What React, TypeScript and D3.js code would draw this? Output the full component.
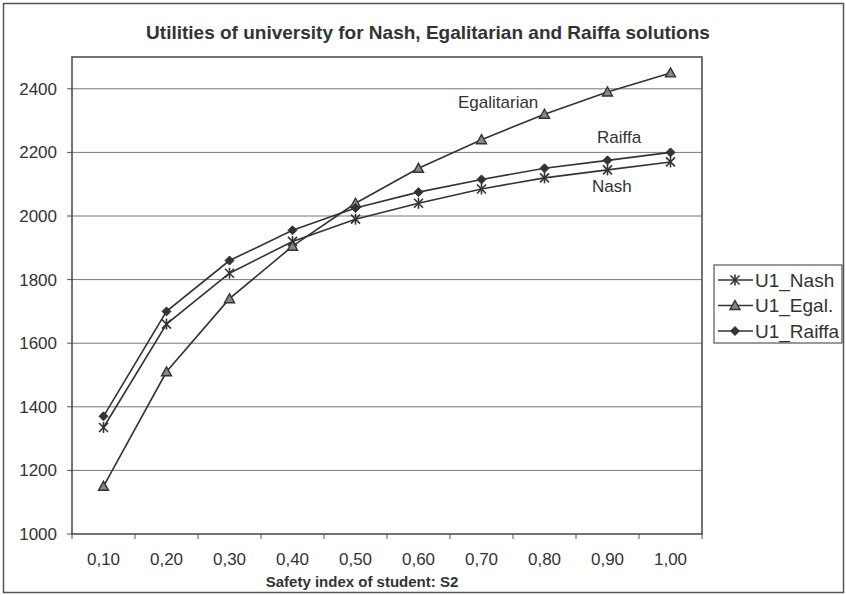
import React from "react";
import * as d3 from "d3";

const categories = ["0,10", "0,20", "0,30", "0,40", "0,50", "0,60", "0,70", "0,80", "0,90", "1,00"];
const nash = [1335, 1660, 1820, 1920, 1990, 2040, 2085, 2120, 2145, 2170];
const egal = [1150, 1510, 1740, 1905, 2040, 2150, 2240, 2320, 2390, 2450];
const raiffa = [1370, 1700, 1860, 1955, 2025, 2075, 2115, 2150, 2175, 2200];
const yTicks = [1000, 1200, 1400, 1600, 1800, 2000, 2200, 2400];
const seriesNames = ["U1_Nash", "U1_Egal.", "U1_Raiffa"];

const W = 846, H = 595;
const L = 72, R = 702, T = 57, B = 534;
const FONT = "'Liberation Sans', Arial, sans-serif";
const INK = "#333";

function Marker({ kind, x, y }: { kind: string; x: number; y: number }) {
  if (kind === "star") {
    const s = 4.5;
    return (
      <g stroke={INK} strokeWidth={1.6}>
        <line x1={x - s} y1={y - s} x2={x + s} y2={y + s} />
        <line x1={x - s} y1={y + s} x2={x + s} y2={y - s} />
        <line x1={x} y1={y - s - 1} x2={x} y2={y + s + 1} />
      </g>
    );
  }
  if (kind === "tri") {
    const s = 5;
    return (
      <path
        d={`M${x},${y - s}L${x + s},${y + s * 0.8}L${x - s},${y + s * 0.8}Z`}
        fill="#888"
        stroke={INK}
        strokeWidth={1.4}
      />
    );
  }
  const s = 4.5;
  return <path d={`M${x},${y - s}L${x + s},${y}L${x},${y + s}L${x - s},${y}Z`} fill={INK} stroke={INK} strokeWidth={1} />;
}

export default function App() {
  const x = d3.scaleBand<string>().domain(categories).range([L, R]);
  const y = d3.scaleLinear().domain([1000, 2500]).range([B, T]);
  const cx = (c: string) => (x(c) as number) + x.bandwidth() / 2;
  const line = d3
    .line<number>()
    .x((_, i) => cx(categories[i]))
    .y((d) => y(d));
  const series = [
    { name: seriesNames[0], data: nash, kind: "star" },
    { name: seriesNames[1], data: egal, kind: "tri" },
    { name: seriesNames[2], data: raiffa, kind: "dia" },
  ];
  return (
    <svg width={W} height={H} style={{ position: "absolute", left: 0, top: 0, background: "#fff" }} fontFamily={FONT}>
      <rect x={3.5} y={3.5} width={840} height={589} fill="#fff" stroke="#555" strokeWidth={1.5} />
      <text x={428} y={39} textAnchor="middle" fontSize={19} fontWeight="bold" fill={INK}>
        Utilities of university for Nash, Egalitarian and Raiffa solutions
      </text>
      {yTicks.map((t) => (
        <g key={t}>
          {t > 1000 && <line x1={L} x2={R} y1={y(t)} y2={y(t)} stroke="#777" strokeWidth={1} />}
          <line x1={L - 5} x2={L} y1={y(t)} y2={y(t)} stroke="#555" />
          <text x={L - 15} y={y(t) + 6} textAnchor="end" fontSize={17} fill={INK}>
            {t}
          </text>
        </g>
      ))}
      <rect x={L} y={T} width={R - L} height={B - T} fill="none" stroke="#444" strokeWidth={1.5} />
      {categories.map((c, i) => (
        <g key={c}>
          <line x1={(x(c) as number) + x.bandwidth()} x2={(x(c) as number) + x.bandwidth()} y1={B} y2={B + 5} stroke="#555" />
          {i === 0 && <line x1={L} x2={L} y1={B} y2={B + 5} stroke="#555" />}
          <text x={cx(c)} y={565} textAnchor="middle" fontSize={17} fill={INK}>
            {c}
          </text>
        </g>
      ))}
      <text x={362} y={587} textAnchor="middle" fontSize={15} fontWeight="bold" fill={INK}>
        Safety index of student: S2
      </text>
      {series.map((s) => (
        <g key={s.name}>
          <path d={line(s.data) || ""} fill="none" stroke={INK} strokeWidth={1.6} />
          {s.data.map((v, i) => (
            <Marker key={i} kind={s.kind} x={cx(categories[i])} y={y(v)} />
          ))}
        </g>
      ))}
      <text x={458} y={108} fontSize={17} fill={INK}>Egalitarian</text>
      <text x={597} y={143} fontSize={17} fill={INK}>Raiffa</text>
      <text x={592} y={192} fontSize={17} fill={INK}>Nash</text>
      <rect x={714} y={265} width={128} height={78} fill="#fff" stroke="#555" strokeWidth={1.2} />
      {series.map((s, i) => {
        const ly = 280 + i * 25.5;
        return (
          <g key={s.name}>
            <line x1={718} x2={753} y1={ly} y2={ly} stroke={INK} strokeWidth={1.6} />
            <Marker kind={s.kind} x={735} y={ly} />
            <text x={755} y={ly + 6.5} fontSize={19} fill={INK}>
              {s.name}
            </text>
          </g>
        );
      })}
    </svg>
  );
}
